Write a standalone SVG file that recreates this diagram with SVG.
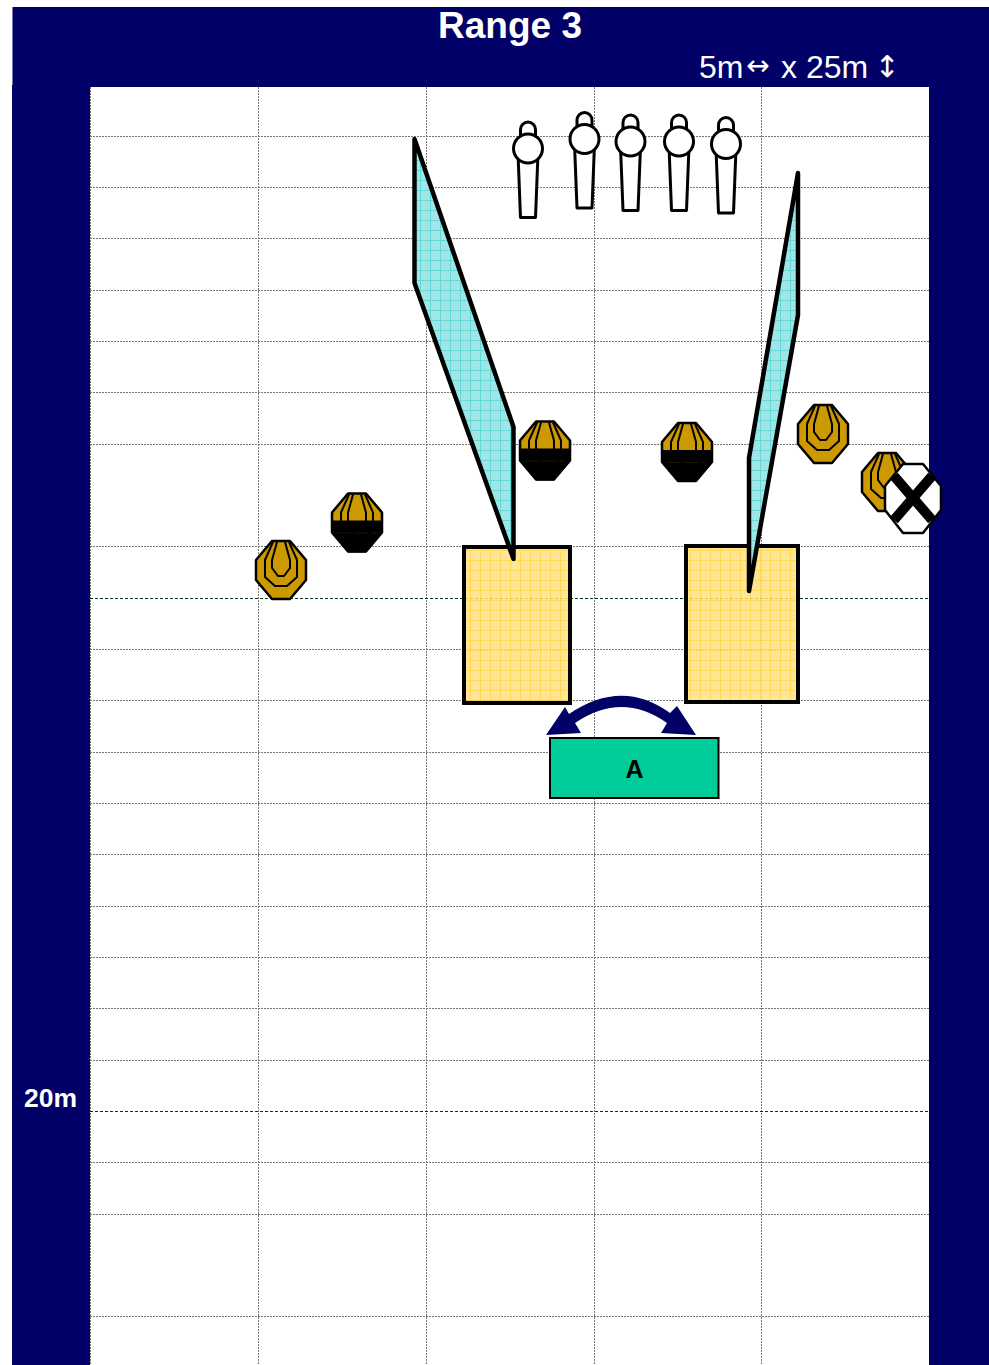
<svg xmlns="http://www.w3.org/2000/svg" width="989" height="1365" viewBox="0 0 989 1365">
<style>
.g{stroke:#777;stroke-width:1;stroke-dasharray:2 1;fill:none}
.d{stroke:#0b3a12;stroke-width:1;stroke-dasharray:3 2;fill:none}
.o{stroke:#000;stroke-width:3;fill:#fff;stroke-linejoin:round}
.w{stroke:#000;stroke-width:4.500;stroke-linejoin:round}
.t{font-family:"Liberation Sans",Arial,sans-serif;fill:#fff}
.r{fill:none;stroke:#000;stroke-width:2;stroke-linejoin:round}
</style>
<defs>
<pattern id="pt" width="10" height="10" patternUnits="userSpaceOnUse"><rect width="10" height="10" fill="#a0e6e6"/><path d="M0 .5H10M.5 0V10" stroke="#66d8d8" stroke-width="1"/></pattern>
<pattern id="py" width="10" height="10" patternUnits="userSpaceOnUse"><rect width="10" height="10" fill="#ffe183"/><path d="M0 .5H10M.5 0V10" stroke="#ffd23c" stroke-width="1"/></pattern>
<g id="tgt">
<polygon points="-9,-29 9,-29 25,-10 25,10 9,29 -9,29 -25,10 -25,-10" fill="#cc9900" stroke="#000" stroke-width="2.500" stroke-linejoin="round"/>
<path class="r" d="M-8-28L-16-10V7L-6 16H6L16 7V-10L8-28"/>
<path class="r" d="M-4-28L-9-10V-2L-3 6H3L9-2V-10L4-28"/>
</g>
<g id="btgt">
<use href="#tgt"/>
<polygon points="-26,-2 26,-2 26,10 9,30 -9,30 -26,10" fill="#000"/>
<path d="M-20 10.500H20" stroke="#1a1500" stroke-width="1" stroke-dasharray="14 3"/>
</g>
<g id="pop">
<path class="o" d="M-7.500-12V-19A7.500 7.500 0 0 1 7.500-19V-12Z"/>
<polygon class="o" points="-10,5 10,5 7.500,69 -7.500,69"/>
<circle class="o" r="14.500"/>
</g>
</defs>
<rect id="bg" x="12" y="7" width="977" height="1358" fill="#000066"/>
<path d="M12.500 7V85" stroke="#7a7ab0" stroke-width="1"/>
<rect id="field" x="90" y="87" width="839" height="1278" fill="#fff"/>
<g id="grid">
<path class="g" d="M90.500 87V1365M258.500 87V1365M426.500 87V1365M594.500 87V1365M761.500 87V1365"/>
<path class="g" d="M90 136.500H929M90 187.500H929M90 238.500H929M90 290.500H929M90 341.500H929M90 392.500H929M90 444.500H929M90 546.500H929M90 649.500H929M90 700.500H929M90 752.500H929M90 803.500H929M90 854.500H929M90 906.500H929M90 957.500H929M90 1008.500H929M90 1060.500H929M90 1162.500H929M90 1214.500H929M90 1316.500H929"/>
<path class="d" d="M90 598.500H929M90 1111.500H929"/>
</g>
<g id="barrel-left"><rect x="464" y="547" width="106" height="156" fill="url(#py)" fill-opacity=".85" stroke="#000" stroke-width="4"/></g>
<g id="barrel-right"><rect x="686" y="546" width="112" height="156" fill="url(#py)" fill-opacity=".85" stroke="#000" stroke-width="4"/></g>
<g id="wall-left"><polygon class="w" points="414.500,139 513.500,427 513.500,559 414.500,283" fill="url(#pt)"/></g>
<g id="wall-right"><polygon class="w" points="798,173 798,315 749,591 749,458" fill="url(#pt)"/></g>
<g id="popper-1"><use href="#pop" x="528" y="148.500"/></g>
<g id="popper-2"><use href="#pop" x="584.500" y="139"/></g>
<g id="popper-3"><use href="#pop" x="630.500" y="141.500"/></g>
<g id="popper-4"><use href="#pop" x="679" y="141.500"/></g>
<g id="popper-5"><use href="#pop" x="726" y="144"/></g>
<g id="target-1"><use href="#tgt" x="281" y="570"/></g>
<g id="target-2"><use href="#btgt" x="357" y="522.500"/></g>
<g id="target-3"><use href="#btgt" x="545" y="450.500"/></g>
<g id="target-4"><use href="#btgt" x="687" y="452"/></g>
<g id="target-5"><use href="#tgt" x="823" y="434"/></g>
<g id="target-6"><use href="#tgt" x="887" y="482"/></g>
<g id="no-shoot">
<polygon points="903,464 923,464 941,486 941,510 923,533 903,533 885,510 885,486" fill="#fff" stroke="#000" stroke-width="2.500" stroke-linejoin="round"/>
<path d="M894 476L932 520M932 476L894 520" stroke="#000" stroke-width="10"/>
</g>
<g id="box-a">
<rect x="550" y="738" width="168.500" height="60" fill="#00cc99" stroke="#000" stroke-width="2"/>
<text x="634.500" y="778" text-anchor="middle" font-family="Liberation Sans, Arial, sans-serif" font-weight="700" font-size="25" fill="#000">A</text>
</g>
<g id="connectors">
<path d="M546 735L565 707L569 714Q622 678 670 713L677 706L696 735L661 733L667 723Q622 691 575 723L581 733Z" fill="#000066"/>
</g>
<g id="labels">
<text class="t" x="510" y="38" text-anchor="middle" font-weight="700" font-size="37">Range 3</text>
<text class="t" x="699" y="78" font-size="32">5m</text>
<text class="t" x="758" y="75" text-anchor="middle" font-size="28" style="font-family:'DejaVu Sans',sans-serif">↔</text>
<text class="t" x="781" y="78" font-size="32">x 25m</text>
<text class="t" x="887" y="77" text-anchor="middle" font-size="30" style="font-family:'DejaVu Sans',sans-serif">↕</text>
<text class="t" x="24" y="1107" font-weight="700" font-size="26.500">20m</text>
</g>
</svg>
